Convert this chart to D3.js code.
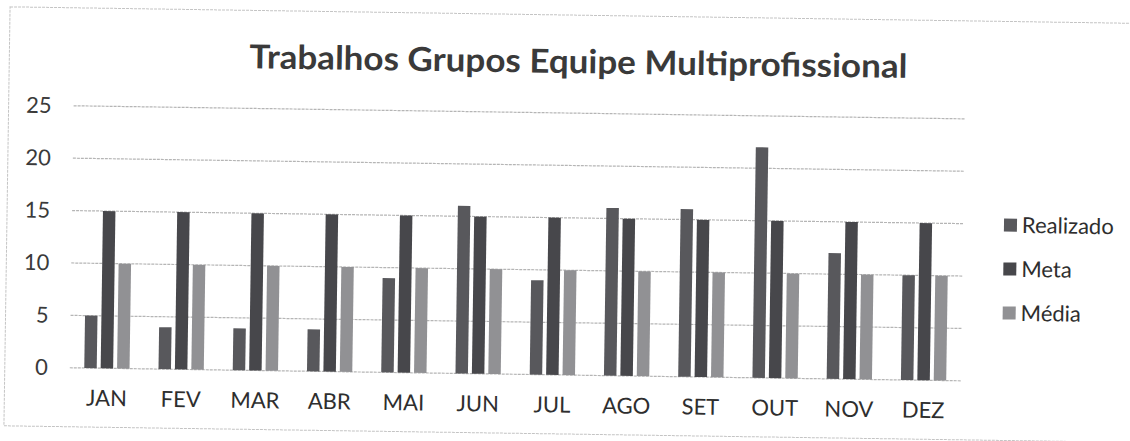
<!DOCTYPE html>
<html>
<head>
<meta charset="utf-8">
<script src="https://cdn.jsdelivr.net/npm/d3@7"></script>
<style>
  body { margin: 0; background: #fff; }
  svg { display: block; }
</style>
</head>
<body>
<div id="chart"></div>
<script>
// data
var months = ["JAN", "FEV", "MAR", "ABR", "MAI", "JUN", "JUL", "AGO", "SET", "OUT", "NOV", "DEZ"];
var realizado = [5, 4, 4, 4, 9, 16, 9, 16, 16, 22, 12, 10];
var meta = [15, 15, 15, 15, 15, 15, 15, 15, 15, 15, 15, 15];
var media = [10, 10, 10, 10, 10, 10, 10, 10, 10, 10, 10, 10];
var seriesNames = ["Realizado", "Meta", "Média"];
var yTicks = [0, 5, 10, 15, 20, 25];
var title = "Trabalhos Grupos Equipe Multiprofissional";

var W = 1130, H = 441;
var font = "Lato, 'Open Sans', sans-serif";

var svg = d3.select("#chart").append("svg")
  .attr("width", W)
  .attr("height", H);

// the scan is a little tilted, so everything sits in one rotated group
var root = svg.append("g")
  .attr("transform", "rotate(0.84,565,220)");

var color = d3.scaleOrdinal()
  .domain(seriesNames)
  .range(["#58585c", "#47474b", "#919194"]);

var values = { "Realizado": realizado, "Meta": meta, "Média": media };
var data = months.map(function(m, i) {
  return { month: m, vals: seriesNames.map(function(k) { return { key: k, value: values[k][i] }; }) };
});

// frame of the chart area
root.append("rect")
  .attr("x", 7)
  .attr("y", 15)
  .attr("width", 1140)
  .attr("height", 419)
  .attr("fill", "none")
  .attr("stroke", "#c4c4c4")
  .attr("stroke-dasharray", "3,1");

var x0 = d3.scaleBand()
  .domain(months)
  .range([72, 963])
  .paddingInner(0.39)
  .paddingOuter(0.195);

var x1 = d3.scaleBand()
  .domain(seriesNames)
  .range([0, x0.bandwidth()])
  .paddingInner(0.24);

var y = d3.scaleLinear()
  .domain([0, 25])
  .range([375, 113]);

// gridlines
root.append("g")
  .selectAll("line")
  .data(yTicks)
  .enter().append("line")
    .attr("x1", 72)
    .attr("x2", 963)
    .attr("y1", function(d) { return y(d); })
    .attr("y2", function(d) { return y(d); })
    .attr("stroke", "#b5b5b5")
    .attr("stroke-width", 1.2)
    .attr("stroke-dasharray", "3,1");

// y axis labels
var yAxis = root.append("g")
  .attr("transform", "translate(60,0)")
  .call(d3.axisLeft(y).tickValues(yTicks).tickSize(0).tickPadding(10));
yAxis.select(".domain").remove();
yAxis.selectAll("text")
  .attr("font-family", font)
  .attr("font-size", 22)
  .attr("fill", "#3a3a3a");

// x axis labels
var xAxis = root.append("g")
  .attr("transform", "translate(0,375)")
  .call(d3.axisBottom(x0).tickSize(0).tickPadding(22));
xAxis.select(".domain").remove();
xAxis.selectAll("text")
  .attr("font-family", font)
  .attr("font-size", 22)
  .attr("fill", "#2e2e2e");

// bars
root.append("g")
  .selectAll("g")
  .data(data)
  .enter().append("g")
    .attr("transform", function(d) { return "translate(" + x0(d.month) + ",0)"; })
  .selectAll("rect")
  .data(function(d) { return d.vals; })
  .enter().append("rect")
    .attr("x", function(d) { return x1(d.key); })
    .attr("y", function(d) { return y(d.value); })
    .attr("width", x1.bandwidth())
    .attr("height", function(d) { return y(0) - y(d.value); })
    .attr("fill", function(d) { return color(d.key); });

// title
root.append("text")
  .attr("x", 576)
  .attr("y", 73)
  .attr("text-anchor", "middle")
  .attr("font-family", font)
  .attr("font-weight", "bold")
  .attr("font-size", 33)
  .attr("fill", "#3a3a3a")
  .attr("textLength", 658)
  .attr("lengthAdjust", "spacingAndGlyphs")
  .text(title);

// legend
var legend = root.append("g")
  .selectAll("g")
  .data(seriesNames)
  .enter().append("g")
    .attr("transform", function(d, i) { return "translate(1004," + (218.5 + i * 44) + ")"; });

legend.append("rect")
  .attr("x", 0)
  .attr("y", -6.5)
  .attr("width", 13)
  .attr("height", 13)
  .attr("fill", color);

legend.append("text")
  .attr("x", 18)
  .attr("y", 0)
  .attr("dy", "0.35em")
  .attr("font-family", font)
  .attr("font-size", 22)
  .attr("fill", "#2e2e2e")
  .text(function(d) { return d; });
</script>
</body>
</html>
